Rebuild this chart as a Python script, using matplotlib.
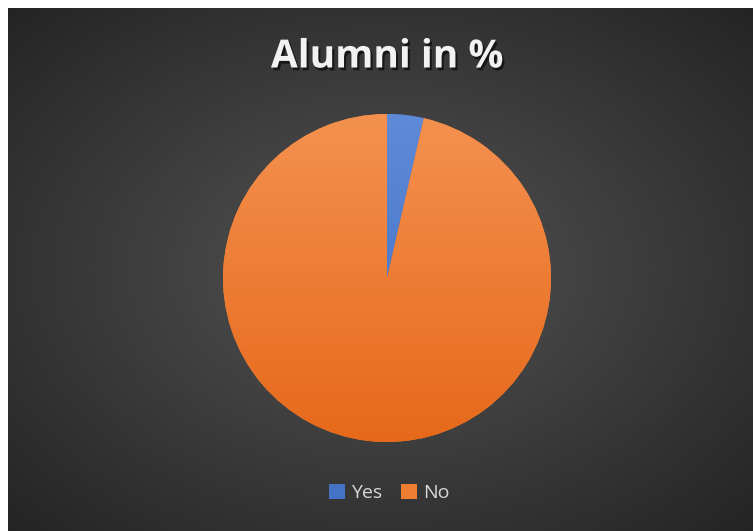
"""
Alumni share pie chart on a dark radial-gradient background.
"""
import numpy as np
import matplotlib.pyplot as plt
import matplotlib.patheffects as pe
from matplotlib.patches import Patch
from matplotlib.colors import LinearSegmentedColormap

labels = ["Yes", "No"]
shares = [3.6, 96.4]

W, H = 753, 531
fig = plt.figure(figsize=(W / 100, H / 100), dpi=100)
fig.patch.set_facecolor("white")

# dark background with a soft radial glow (leaves a thin white border top/left)
bg = fig.add_axes([8 / W, 0, (W - 8) / W, (H - 8) / H])
yy, xx = np.mgrid[-1:1:300j, -1:1:420j]
r = np.sqrt((xx * 0.95) ** 2 + (yy * 0.95) ** 2)
bg_cmap = LinearSegmentedColormap.from_list("bg", ["#545454", "#3c3c3c", "#242424"])
bg.imshow(r, cmap=bg_cmap, vmin=0, vmax=1.35, aspect="auto", extent=[0, 1, 0, 1])
bg.set_axis_off()

# pie
cx, cy, rad = 387, 278, 164
ax = fig.add_axes([(cx - rad) / W, (H - cy - rad) / H, 2 * rad / W, 2 * rad / H])
wedges, _ = ax.pie(shares, startangle=90, counterclock=False, radius=1,
                   colors=["#4472C4", "#ED7D31"], wedgeprops=dict(linewidth=0))
ax.set_xlim(-1.0, 1.0)
ax.set_ylim(-1.0, 1.0)
ax.set_aspect("equal")

# vertical gradient fill on each slice, like the Office style
grad = np.linspace(1, 0, 256).reshape(-1, 1)
fills = [["#3f6cc2", "#5f8ad8"], ["#e6691a", "#f4914f"]]
for w, (lo, hi) in zip(wedges, fills):
    cm = LinearSegmentedColormap.from_list("g", [lo, hi])
    im = ax.imshow(grad, cmap=cm, extent=[-1, 1, -1, 1], aspect="auto", zorder=2)
    im.set_clip_path(w)
ax.set_axis_off()

fig.text(cx / W, 1 - 57 / H, "Alumni in %", ha="center", va="center",
         fontsize=28, fontweight="bold", color="#F2F2F2", family="Open Sans",
         path_effects=[pe.withSimplePatchShadow(offset=(1.5, -2), shadow_rgbFace="black", alpha=0.6)])

handles = [Patch(facecolor="#4472C4", label="Yes"), Patch(facecolor="#ED7D31", label="No")]
fig.legend(handles=handles, loc="center", bbox_to_anchor=(cx / W + 0.003, 1 - 493 / H), ncol=2,
           frameon=False, labelcolor="#D9D9D9", handlelength=0.8,
           handleheight=0.8, handletextpad=0.3, columnspacing=1.0,
           prop={"family": "Open Sans", "size": 14})

fig.savefig("out.png", dpi=100, facecolor=fig.get_facecolor())
